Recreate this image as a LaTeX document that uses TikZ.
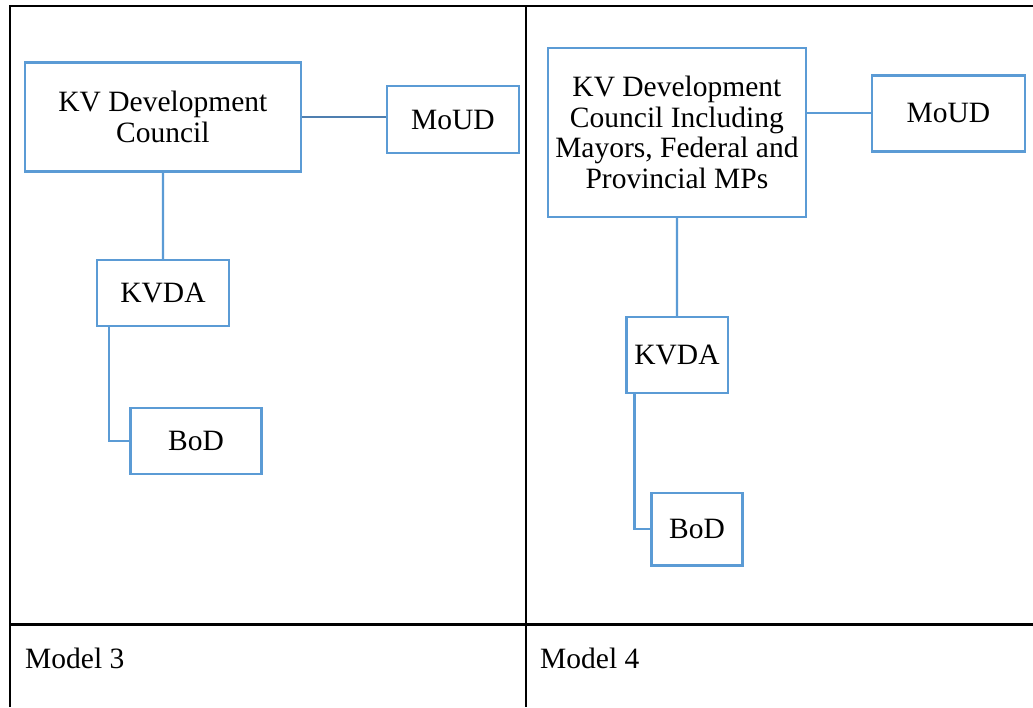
\documentclass[tikz,border=0pt]{standalone}
\usepackage{fontspec}
\setmainfont{Liberation Serif}
\definecolor{boxblue}{HTML}{5B9BD5}
\definecolor{linkblue}{HTML}{4F7FB0}
\begin{document}
\begin{tikzpicture}[x=1pt,y=-1pt,
  orgbox/.style={draw=boxblue,line width=2.5pt,rectangle,inner sep=0pt,align=center,
    font=\fontsize{29.5}{30.5}\selectfont},
  link/.style={draw=boxblue,line width=2.2pt},
  hlink/.style={draw=linkblue,line width=2.5pt},
  rule/.style={draw=black,line width=2pt},
  caption/.style={anchor=base west,inner sep=0pt,font=\fontsize{29.5}{30.5}\selectfont}]
\useasboundingbox (0,0) rectangle (1033,707);
% table frame
\draw[rule] (10,707) -- (10,6) -- (1033,6);
\draw[rule] (526,6) -- (526,707);
\draw[rule,line width=2.5pt] (10,624.5) -- (1033,624.5);
% Model 3
\node[orgbox,minimum width=276,minimum height=109] (c3) at (162.9,116.8) {KV Development\\Council};
\node[orgbox,minimum width=132,minimum height=67] (m3) at (453,119.5) {MoUD};
\node[orgbox,minimum width=132,minimum height=66] (k3) at (163,293) {KVDA};
\node[orgbox,minimum width=131,minimum height=66] (b3) at (196,441) {BoD};
\draw[hlink] (c3.east) -- (c3.east -| m3.west);
\draw[link] (c3.south) -- (k3.north);
\draw[link] ([xshift=13pt]k3.south west) |- (b3.west);
% Model 4
\node[orgbox,minimum width=258,minimum height=169] (c4) at (676.9,132.3) {KV Development\\Council Including\\Mayors, Federal and\\Provincial MPs};
\node[orgbox,minimum width=153,minimum height=76] (m4) at (948.5,113.3) {MoUD};
\node[orgbox,minimum width=101.5,minimum height=76] (k4) at (677,355) {KVDA};
\node[orgbox,minimum width=91,minimum height=72.7] (b4) at (697,529.3) {BoD};
\draw[link] (m4.west -| c4.east) -- (m4.west);
\draw[link] (c4.south) -- (k4.north);
\draw[link] ([xshift=9.5pt]k4.south west) |- (b4.west);
% captions
\node[caption] (l3) at (25,668) {Model 3};
\node[caption] (l4) at (540,668) {Model 4};
\end{tikzpicture}
\end{document}
